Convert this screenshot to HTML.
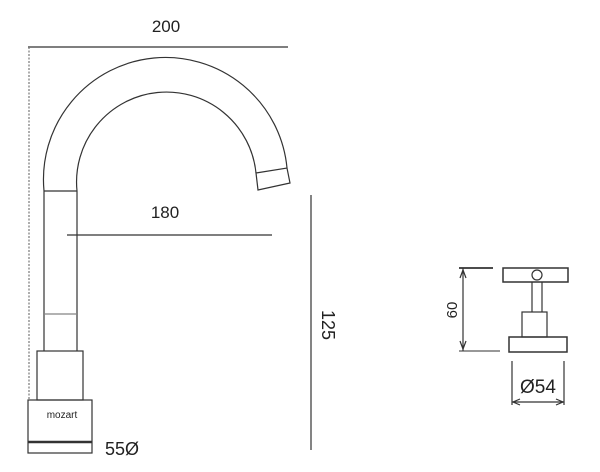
<!DOCTYPE html>
<html><head><style>body{margin:0;background:#fff}svg{display:block}text{font-family:"Liberation Sans",sans-serif;fill:#222}</style></head>
<body><svg width="600" height="472" viewBox="0 0 600 472" xmlns="http://www.w3.org/2000/svg">
<g stroke="#333" fill="none" stroke-width="1.2">
<line x1="28" y1="47" x2="288" y2="47"/>
<line x1="29" y1="47" x2="29" y2="400" stroke-dasharray="2,1.5" stroke="#777"/>
<path d="M44 191 A121 121 0 0 1 287 168"/>
<path d="M77 191 A88 88 0 0 1 256 173"/>
<path d="M256 173 L287 168 L290 183 L258 190 Z"/>
<line x1="44" y1="191" x2="77" y2="191"/>
<line x1="44" y1="191" x2="44" y2="351"/>
<line x1="77" y1="191" x2="77" y2="351"/>
<line x1="67" y1="235" x2="272" y2="235"/>
<line x1="45" y1="314" x2="76" y2="314" stroke-width="0.8"/>
<rect x="37" y="351" width="46" height="49"/>
<rect x="28" y="400" width="64" height="53"/>
<line x1="28" y1="442" x2="92" y2="442" stroke-width="2.5"/>
<line x1="311" y1="195" x2="311" y2="450"/>
<line x1="459" y1="268" x2="493" y2="268" stroke-width="1.8"/>
<line x1="459" y1="351" x2="500" y2="351" stroke-width="1.5" stroke="#777"/>
<line x1="463" y1="268" x2="463" y2="351"/>
<path d="M460 278 L463 270 L466 278 M460 341 L463 349 L466 341"/>
<rect x="503" y="268" width="65" height="14" stroke-width="1.5"/>
<circle cx="537" cy="275" r="5"/>
<line x1="532" y1="282" x2="532" y2="312"/>
<line x1="542" y1="282" x2="542" y2="312"/>
<rect x="522" y="312" width="25" height="25"/>
<rect x="509" y="337" width="58" height="15" stroke-width="1.5"/>
<line x1="512" y1="361" x2="512" y2="405"/>
<line x1="564" y1="361" x2="564" y2="405"/>
<line x1="512" y1="402" x2="564" y2="402"/>
<path d="M520 399 L513 402 L520 405 M556 399 L563 402 L556 405"/>
</g>
<text x="166" y="32" font-size="17" text-anchor="middle">200</text>
<text x="165" y="218" font-size="17" text-anchor="middle">180</text>
<text x="62" y="418" font-size="10" text-anchor="middle">mozart</text>
<text x="105" y="455" font-size="18">55Ø</text>
<text x="0" y="0" font-size="18" text-anchor="middle" transform="translate(322,325) rotate(90)">125</text>
<text x="0" y="0" font-size="15" text-anchor="middle" fill="#234" transform="translate(457,310) rotate(-90)">60</text>
<text x="538" y="393" font-size="19" text-anchor="middle">Ø54</text>
</svg></body></html>
